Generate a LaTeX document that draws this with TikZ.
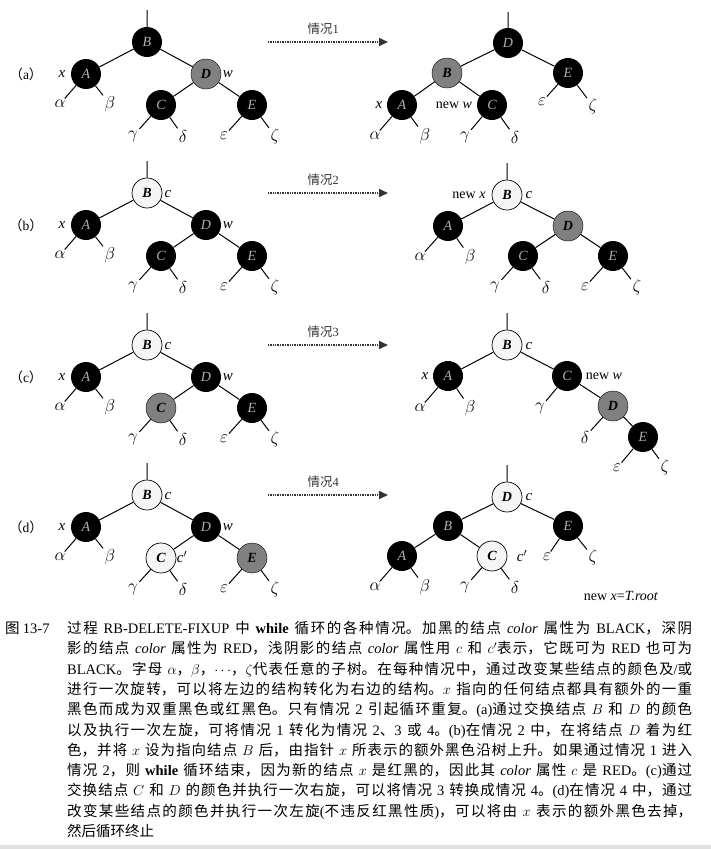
\documentclass[tikz,border=0pt]{standalone}
\usepackage{fontspec}
\setmainfont{Liberation Serif}
\newfontfamily\cjk{Noto Sans CJK SC}
\usetikzlibrary{arrows.meta}
\XeTeXlinebreaklocale "zh"
\XeTeXlinebreakskip=0pt plus 1pt minus 0.1pt
\newcommand{\la}[1]{{\rmfamily #1}}

\begin{document}
\begin{tikzpicture}[x=1pt, y=-1pt,
  nodo/.style={circle, minimum size=30pt, inner sep=0pt, font=\fontsize{14}{14}\selectfont\itshape},
  negro/.style={nodo, fill=black, text=black!30},
  rojo/.style={nodo, draw=black, fill=black!50, font=\fontsize{14}{14}\selectfont\bfseries\itshape},
  claro/.style={nodo, draw=black, line width=0.7pt, fill=black!4, font=\fontsize{14}{14}\selectfont\bfseries\itshape},
  arista/.style={line width=1pt},
  hoja/.style={inner sep=1.5pt, font=\fontsize{16}{16}\selectfont},
  etiq/.style={inner sep=0pt, font=\fontsize{15}{15}\selectfont\itshape},
  nuevo/.style={inner sep=0pt, font=\fontsize{14}{14}\selectfont},
  caso/.style={line width=1.6pt, black!80, dash pattern=on 0.8pt off 0.9pt, -{Triangle[length=9pt, width=8pt]}},
]
\useasboundingbox (0,0) rectangle (711,849);

% Árboles de la izquierda y flechas de cada caso
\foreach \p/\n/\o/\cB/\cA/\cD/\cC/\cE in {a/1/0/negro/negro/rojo/negro/negro, b/2/151/claro/negro/negro/negro/negro, c/3/303/claro/negro/negro/rojo/negro, d/4/453/claro/negro/negro/claro/rojo}{
  % Nodos
  \node[\cB] (B\p) at (147,42+\o) {B};
  \node[\cA] (A\p) at (86,74+\o) {A};
  \node[\cD] (D\p) at (206,74+\o) {D};
  \node[\cC] (C\p) at (161,105+\o) {C};
  \node[\cE] (E\p) at (252,105+\o) {E};
  \coordinate (r\p) at (147,10+\o);
  % Subárboles
  \node[hoja] (al\p) at (60,104+\o) {$\alpha$};
  \node[hoja] (be\p) at (110,104+\o) {$\beta$};
  \node[hoja] (ga\p) at (133,136+\o) {$\gamma$};
  \node[hoja] (de\p) at (183,136+\o) {$\delta$};
  \node[hoja] (ep\p) at (224,136+\o) {$\varepsilon$};
  \node[hoja] (ze\p) at (275,136+\o) {$\zeta$};
  % Aristas
  \draw[arista] (r\p) -- (B\p) (B\p) -- (A\p) (B\p) -- (D\p) (D\p) -- (C\p) (D\p) -- (E\p)
    (A\p) -- (al\p) (A\p) -- (be\p) (C\p) -- (ga\p) (C\p) -- (de\p) (E\p) -- (ep\p) (E\p) -- (ze\p);
  % Etiquetas x y w
  \node[etiq] (x\p) at (62,74+\o) {x};
  \node[etiq] (w\p) at (228,74+\o) {w};
  % Nombre del caso
  \node[font=\fontsize{13.5}{13.5}\selectfont] (lab\p) at (26,74+\o) {{\cjk （}\p{\cjk ）}};
  % Flecha punteada
  \coordinate (ini\p) at (268,42+\o);
  \coordinate (fin\p) at (388,42+\o);
  \draw[caso] (ini\p) -- (fin\p) node[pos=0.46, above=3pt, font=\cjk\fontsize{12.5}{12.5}\selectfont] {情况\la{\n}};
}
% Etiquetas c y c'
\node[etiq] (cb) at (168,194) {c};
\node[etiq] (cc) at (168,346) {c};
\node[etiq] (cd) at (168,496) {c};
\node[etiq] (cpd) at (182,557) {c$'$};

% Árbol derecho (a)
\node[negro] (Da2) at (508,43) {D};
\node[rojo] (Ba2) at (447,73) {B};
\node[negro] (Ea2) at (568,73) {E};
\node[negro] (Aa2) at (402,105) {A};
\node[negro] (Ca2) at (492,105) {C};
\coordinate (ra2) at (508,12);
\node[hoja] (ala2) at (375,136) {$\alpha$};
\node[hoja] (bea2) at (425,136) {$\beta$};
\node[hoja] (gaa2) at (465,137) {$\gamma$};
\node[hoja] (dea2) at (515,137) {$\delta$};
\node[hoja] (epa2) at (542,102) {$\varepsilon$};
\node[hoja] (zea2) at (593,106) {$\zeta$};
\draw[arista] (ra2) -- (Da2) (Da2) -- (Ba2) (Da2) -- (Ea2) (Ba2) -- (Aa2) (Ba2) -- (Ca2)
  (Aa2) -- (ala2) (Aa2) -- (bea2) (Ca2) -- (gaa2) (Ca2) -- (dea2) (Ea2) -- (epa2) (Ea2) -- (zea2);
\node[etiq] (xa2) at (379,105) {x};
\node[nuevo] (wa2) at (454,105) {new \textit{w}};

% Árbol derecho (b)
\node[claro] (Bb2) at (507,195) {B};
\node[negro] (Ab2) at (448,226) {A};
\node[rojo] (Db2) at (568,226) {D};
\node[negro] (Cb2) at (523,256) {C};
\node[negro] (Eb2) at (613,256) {E};
\coordinate (rb2) at (507,163);
\node[hoja] (alb2) at (420,257) {$\alpha$};
\node[hoja] (beb2) at (470,257) {$\beta$};
\node[hoja] (gab2) at (495,287) {$\gamma$};
\node[hoja] (deb2) at (546,287) {$\delta$};
\node[hoja] (epb2) at (585,287) {$\varepsilon$};
\node[hoja] (zeb2) at (637,287) {$\zeta$};
\draw[arista] (rb2) -- (Bb2) (Bb2) -- (Ab2) (Bb2) -- (Db2) (Db2) -- (Cb2) (Db2) -- (Eb2)
  (Ab2) -- (alb2) (Ab2) -- (beb2) (Cb2) -- (gab2) (Cb2) -- (deb2) (Eb2) -- (epb2) (Eb2) -- (zeb2);
\node[nuevo] (xb2) at (469,195) {new \textit{x}};
\node[etiq] (cb2) at (529,195) {c};

% Árbol derecho (c)
\node[claro] (Bc2) at (507,345) {B};
\node[negro] (Ac2) at (448,376) {A};
\node[negro] (Cc2) at (567,376) {C};
\node[rojo] (Dc2) at (613,406) {D};
\node[negro] (Ec2) at (643,437) {E};
\coordinate (rc2) at (507,313);
\node[hoja] (alc2) at (420,408) {$\alpha$};
\node[hoja] (bec2) at (470,408) {$\beta$};
\node[hoja] (gac2) at (540,408) {$\gamma$};
\node[hoja] (dec2) at (585,437) {$\delta$};
\node[hoja] (epc2) at (617,468) {$\varepsilon$};
\node[hoja] (zec2) at (665,467) {$\zeta$};
\draw[arista] (rc2) -- (Bc2) (Bc2) -- (Ac2) (Bc2) -- (Cc2) (Cc2) -- (Dc2) (Dc2) -- (Ec2)
  (Ac2) -- (alc2) (Ac2) -- (bec2) (Cc2) -- (gac2) (Dc2) -- (dec2) (Ec2) -- (epc2) (Ec2) -- (zec2);
\node[etiq] (xc2) at (425,376) {x};
\node[etiq] (cc2) at (529,346) {c};
\node[nuevo] (wc2) at (604,376) {new \textit{w}};

% Árbol derecho (d)
\node[claro] (Dd2) at (507,497) {D};
\node[negro] (Bd2) at (448,526) {B};
\node[negro] (Ed2) at (568,526) {E};
\node[negro] (Ad2) at (402,556) {A};
\node[claro] (Cd2) at (492,556) {C};
\coordinate (rd2) at (507,465);
\node[hoja] (ald2) at (375,587) {$\alpha$};
\node[hoja] (bed2) at (425,587) {$\beta$};
\node[hoja] (gad2) at (465,587) {$\gamma$};
\node[hoja] (ded2) at (515,587) {$\delta$};
\node[hoja] (epd2) at (547,557) {$\varepsilon$};
\node[hoja] (zed2) at (593,557) {$\zeta$};
\draw[arista] (rd2) -- (Dd2) (Dd2) -- (Bd2) (Dd2) -- (Ed2) (Bd2) -- (Ad2) (Bd2) -- (Cd2)
  (Ad2) -- (ald2) (Ad2) -- (bed2) (Cd2) -- (gad2) (Cd2) -- (ded2) (Ed2) -- (epd2) (Ed2) -- (zed2);
\node[etiq] (cd2) at (529,497) {c};
\node[etiq] (cpd2) at (522,556) {c$'$};
\node[nuevo] (raiz) at (621,596) {new \textit{x}=\textit{T.root}};

% Pie de figura
\node[anchor=base west, inner sep=0pt, font=\cjk\fontsize{14.5}{14.5}\selectfont] (fig) at (5,633.5) {图 \la{13-7}};
\node[anchor=base west, inner sep=0pt, text width=625pt, align=justify, font=\cjk\fontsize{14.5}{20.3}\selectfont] (pie) at (67,633.5) {%
过程 \la{RB-DELETE-FIXUP} 中 \la{\textbf{while}} 循环的各种情况。加黑的结点 \la{\textit{color}} 属性为 \la{BLACK}，深阴\break
影的结点 \la{\textit{color}} 属性为 \la{RED}，浅阴影的结点 \la{\textit{color}} 属性用 $c$ 和 $c'$表示，它既可为 \la{RED} 也可为\break
\la{BLACK}。字母 $\alpha$，$\beta$，$\cdots$，$\zeta$代表任意的子树。在每种情况中，通过改变某些结点的颜色及\la{/}或\break
进行一次旋转，可以将左边的结构转化为右边的结构。$x$ 指向的任何结点都具有额外的一重\break
黑色而成为双重黑色或红黑色。只有情况 \la{2} 引起循环重复。\la{(a)}通过交换结点 $B$ 和 $D$ 的颜色\break
以及执行一次左旋，可将情况 \la{1} 转化为情况 \la{2}、\la{3} 或 \la{4}。\la{(b)}在情况 \la{2} 中，在将结点 $D$ 着为红\break
色，并将 $x$ 设为指向结点 $B$ 后，由指针 $x$ 所表示的额外黑色沿树上升。如果通过情况 \la{1} 进入\break
情况 \la{2}，则 \la{\textbf{while}} 循环结束，因为新的结点 $x$ 是红黑的，因此其 \la{\textit{color}} 属性 $c$ 是 \la{RED}。\la{(c)}通过\break
交换结点 $C$ 和 $D$ 的颜色并执行一次右旋，可以将情况 \la{3} 转换成情况 \la{4}。\la{(d)}在情况 \la{4} 中，通过\break
改变某些结点的颜色并执行一次左旋\la{(}不违反红黑性质\la{)}，可以将由 $x$ 表示的额外黑色去掉，\break
然后循环终止};
% Borde gris inferior
\fill[black!12] (0,845) rectangle (711,849);
\end{tikzpicture}
\end{document}
